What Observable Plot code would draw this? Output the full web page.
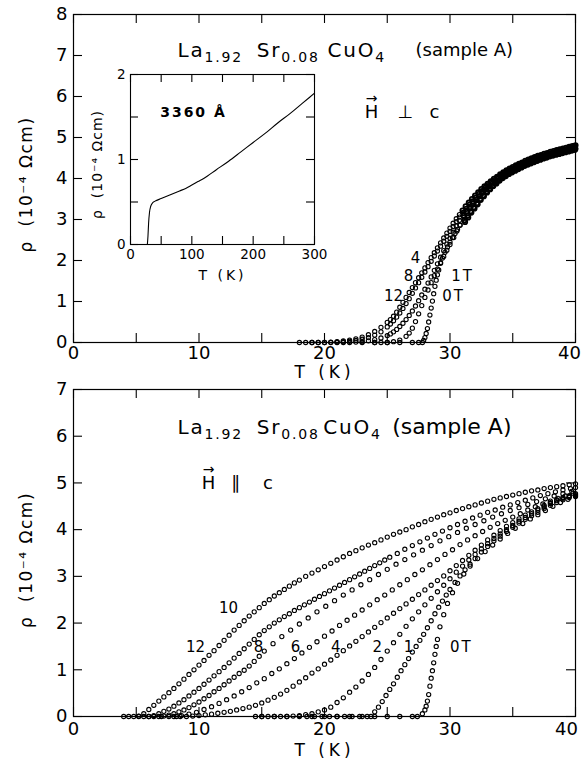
<!DOCTYPE html>
<html><head><meta charset="utf-8">
<script src="https://cdn.jsdelivr.net/npm/d3@7"></script>
<script src="https://cdn.jsdelivr.net/npm/@observablehq/plot@0.6"></script>
<style>
html,body{margin:0;padding:0;background:#fff;}
#wrap{position:relative;width:584px;height:760px;overflow:hidden;background:#fff;}
#wrap svg{position:absolute;overflow:visible;}
</style></head><body><div id="wrap"></div>
<script>
// ---------------- DATA ----------------
// Top panel (H perpendicular to c): transition region per field [T (K), rho (1e-4 Ohm cm)]
const top_0T = [[24,0],[25,0],[26,0],[27,0],[27.5,0],[27.8,0],[27.9,0.05],[28,0.12],[28.1,0.22],[28.2,0.34],[28.3,0.5],[28.4,0.67],[28.5,0.84],[28.6,1.01],[28.7,1.19],[28.8,1.37],[28.9,1.52],[29,1.65],[29.1,1.77],[29.25,1.93],[29.4,2.06],[29.6,2.2],[29.8,2.33],[30,2.45],[30.2,2.56],[30.4,2.66],[30.6,2.76],[30.8,2.86]];
const top_1T = [[23,0],[24,0],[24.5,0],[25,0],[25.5,0.02],[26,0.06],[26.5,0.15],[26.75,0.23],[27,0.35],[27.25,0.51],[27.5,0.7],[27.75,0.9],[28,1.1],[28.25,1.28],[28.5,1.46],[28.75,1.63],[29,1.79],[29.25,1.95],[29.5,2.1],[29.75,2.25],[30,2.39],[30.3,2.56],[30.55,2.72],[30.8,2.87]];
const top_4T = [[21,0],[21.5,0],[22,0],[22.5,0.01],[23,0.02],[23.5,0.04],[24,0.07],[24.5,0.11],[25,0.17],[25.25,0.21],[25.5,0.26],[25.75,0.32],[26,0.39],[26.25,0.47],[26.5,0.56],[26.75,0.66],[27,0.77],[27.25,0.89],[27.5,1.02],[27.75,1.16],[28,1.3],[28.25,1.45],[28.5,1.6],[28.75,1.76],[29,1.92],[29.25,2.08],[29.5,2.24],[29.75,2.4],[30,2.54],[30.25,2.69],[30.5,2.84],[30.75,2.98]];
const top_8T = [[19,0],[19.5,0],[20,0],[20.5,0],[21,0.01],[21.5,0.02],[22,0.03],[22.5,0.05],[23,0.08],[23.5,0.12],[24,0.18],[24.5,0.26],[25,0.38],[25.25,0.45],[25.5,0.53],[25.75,0.62],[26,0.72],[26.25,0.83],[26.5,0.95],[26.75,1.07],[27,1.2],[27.25,1.33],[27.5,1.46],[27.75,1.59],[28,1.72],[28.25,1.85],[28.5,1.98],[28.75,2.11],[29,2.23],[29.25,2.35],[29.5,2.47],[29.75,2.59],[30,2.71],[30.25,2.83],[30.5,2.95],[30.75,3.06]];
const top_12T = [[18,0],[18.5,0],[19,0],[19.5,0],[20,0],[20.5,0.01],[21,0.02],[21.5,0.04],[22,0.06],[22.5,0.09],[23,0.13],[23.5,0.19],[24,0.27],[24.5,0.37],[25,0.49],[25.25,0.56],[25.5,0.64],[25.75,0.74],[26,0.86],[26.25,0.98],[26.5,1.1],[26.75,1.22],[27,1.34],[27.25,1.46],[27.5,1.58],[27.75,1.7],[28,1.82],[28.25,1.95],[28.5,2.07],[28.75,2.19],[29,2.31],[29.25,2.43],[29.5,2.55],[29.75,2.67],[30,2.79],[30.25,2.91],[30.5,3.02],[30.75,3.12]];
// Top panel normal-state band (curves nearly merged): temperatures and values per field
const bandT_12 = [31,31.25,31.5,31.75,32,32.25,32.5,32.75,33,33.25,33.5,33.75,34,34.25,34.5,34.75,35,35.25,35.5,35.75,36,36.25,36.5,36.75,37,37.25,37.5,37.75,38,38.25,38.5,38.75,39,39.25,39.5,39.75,40];
const bandT_8  = [31.05,31.3,31.55,31.8,32.05,32.3,32.55,32.8,33.05,33.3,33.55,33.8,34.05,34.3,34.55,34.8,35.05,35.3,35.55,35.8,36.05,36.3,36.55,36.8,37.05,37.3,37.55,37.8,38.05,38.3,38.55,38.8,39.05,39.3,39.55,39.8,39.95];
const bandT_4  = [31.1,31.35,31.6,31.85,32.1,32.35,32.6,32.85,33.1,33.35,33.6,33.85,34.1,34.35,34.6,34.85,35.1,35.35,35.6,35.85,36.1,36.35,36.6,36.85,37.1,37.35,37.6,37.85,38.1,38.35,38.6,38.85,39.1,39.35,39.6,39.85,39.9];
const bandT_1  = [31.15,31.4,31.65,31.9,32.15,32.4,32.65,32.9,33.15,33.4,33.65,33.9,34.15,34.4,34.65,34.9,35.15,35.4,35.65,35.9,36.15,36.4,36.65,36.9,37.15,37.4,37.65,37.9,38.15,38.4,38.65,38.9,39.15,39.4,39.65,39.9,39.97];
const bandT_0  = [31.2,31.45,31.7,31.95,32.2,32.45,32.7,32.95,33.2,33.45,33.7,33.95,34.2,34.45,34.7,34.95,35.2,35.45,35.7,35.95,36.2,36.45,36.7,36.95,37.2,37.45,37.7,37.95,38.2,38.45,38.7,38.95,39.2,39.45,39.7,39.95,39.99];
const band_12T = [3.22,3.32,3.41,3.5,3.58,3.66,3.74,3.81,3.87,3.93,3.99,4.04,4.1,4.15,4.2,4.24,4.28,4.32,4.36,4.39,4.43,4.46,4.49,4.52,4.55,4.57,4.6,4.62,4.65,4.67,4.69,4.71,4.73,4.75,4.77,4.79,4.81];
const band_8T  = [3.16,3.26,3.36,3.44,3.53,3.62,3.69,3.77,3.84,3.9,3.96,4.02,4.07,4.12,4.17,4.21,4.25,4.29,4.33,4.37,4.4,4.43,4.46,4.49,4.52,4.55,4.57,4.6,4.62,4.64,4.66,4.68,4.7,4.72,4.74,4.76,4.78];
const band_4T  = [3.1,3.2,3.3,3.39,3.48,3.57,3.65,3.73,3.8,3.87,3.93,3.99,4.05,4.1,4.15,4.19,4.23,4.27,4.31,4.35,4.38,4.41,4.44,4.47,4.5,4.53,4.55,4.58,4.6,4.62,4.64,4.66,4.68,4.7,4.72,4.74,4.76];
const band_1T  = [2.98,3.09,3.2,3.3,3.4,3.5,3.59,3.68,3.75,3.83,3.9,3.96,4.03,4.08,4.13,4.17,4.21,4.25,4.29,4.33,4.36,4.39,4.42,4.45,4.48,4.51,4.53,4.56,4.58,4.6,4.62,4.64,4.66,4.68,4.7,4.72,4.74];
const band_0T  = [2.94,3.05,3.17,3.27,3.37,3.48,3.57,3.66,3.74,3.82,3.88,3.95,4.01,4.06,4.11,4.15,4.19,4.23,4.27,4.31,4.34,4.37,4.4,4.43,4.46,4.49,4.51,4.54,4.56,4.58,4.6,4.62,4.64,4.66,4.68,4.7,4.72];

// Bottom panel (H parallel to c): fields 0,1,2,4,6,8,10,12 T
const bot_12T = [[4,0],[4.4,0],[4.8,0],[5.2,0.01],[5.6,0.06],[6,0.15],[6.4,0.24],[6.8,0.33],[7.2,0.42],[7.6,0.51],[8,0.6],[8.4,0.7],[8.8,0.8],[9.2,0.9],[9.6,1],[10,1.1],[10.4,1.2],[10.8,1.31],[11.2,1.41],[11.6,1.52],[12,1.63],[12.4,1.74],[12.8,1.85],[13.2,1.95],[13.6,2.05],[14,2.15],[14.4,2.24],[14.8,2.33],[15.2,2.42],[15.6,2.5],[16,2.58],[16.4,2.65],[16.8,2.72],[17.2,2.79],[17.6,2.86],[18,2.92],[18.5,3],[19,3.07],[19.5,3.14],[20,3.21],[20.5,3.28],[21,3.35],[21.5,3.42],[22,3.49],[22.5,3.55],[23,3.61],[23.5,3.67],[24,3.72],[24.5,3.78],[25,3.84],[25.5,3.9],[26,3.95],[26.5,4],[27,4.06],[27.5,4.11],[28,4.17],[28.5,4.22],[29,4.27],[29.5,4.32],[30,4.36],[30.5,4.41],[31,4.45],[31.5,4.49],[32,4.53],[32.5,4.57],[33,4.61],[33.5,4.65],[34,4.68],[34.5,4.71],[35,4.74],[35.5,4.77],[36,4.8],[36.5,4.83],[37,4.85],[37.5,4.88],[38,4.9],[38.5,4.92],[39,4.94],[39.5,4.96],[40,4.98]];
const bot_10T = [[5.2,0],[5.6,0],[6,0],[6.4,0.02],[6.8,0.06],[7.2,0.11],[7.6,0.16],[8,0.22],[8.4,0.29],[8.8,0.36],[9.2,0.44],[9.6,0.52],[10,0.6],[10.4,0.69],[10.8,0.78],[11.2,0.87],[11.6,0.96],[12,1.05],[12.4,1.15],[12.8,1.25],[13.2,1.35],[13.6,1.45],[14,1.55],[14.4,1.65],[14.8,1.75],[15.2,1.84],[15.6,1.92],[16,2],[16.4,2.07],[16.8,2.14],[17.2,2.2],[17.6,2.27],[18,2.33],[18.4,2.39],[18.8,2.45],[19.2,2.51],[19.6,2.57],[20,2.63],[20.4,2.69],[20.8,2.75],[21.2,2.81],[21.6,2.87],[22,2.93],[22.4,2.99],[22.8,3.05],[23.2,3.11],[23.6,3.17],[24,3.23],[24.4,3.29],[24.8,3.35],[25.2,3.41],[25.8,3.49],[26.4,3.58],[27,3.66],[27.6,3.74],[28.2,3.82],[28.8,3.9],[29.4,3.97],[30,4.04],[30.6,4.11],[31.2,4.18],[31.8,4.25],[32.4,4.31],[33,4.37],[33.6,4.42],[34.2,4.48],[34.8,4.53],[35.4,4.58],[36,4.63],[36.6,4.68],[37.2,4.73],[37.8,4.77],[38.4,4.81],[39,4.85],[39.6,4.88],[40,4.9]];
const bot_8T = [[6,0],[6.4,0],[6.8,0],[7.2,0.01],[7.6,0.03],[8,0.06],[8.4,0.1],[8.8,0.14],[9.2,0.19],[9.6,0.25],[10,0.31],[10.4,0.38],[10.8,0.45],[11.2,0.53],[11.6,0.6],[12,0.68],[12.4,0.76],[12.8,0.84],[13.2,0.92],[13.6,0.99],[14,1.08],[14.4,1.18],[14.8,1.29],[15.2,1.4],[15.9,1.56],[16.6,1.71],[17.3,1.85],[18,1.98],[18.7,2.11],[19.4,2.24],[20.1,2.36],[20.8,2.48],[21.5,2.6],[22.2,2.71],[22.9,2.82],[23.6,2.93],[24.3,3.04],[25,3.15],[25.7,3.26],[26.4,3.36],[27.1,3.46],[27.8,3.56],[28.5,3.66],[29.2,3.76],[29.9,3.85],[30.6,3.94],[31.3,4.03],[32,4.11],[32.7,4.19],[33.4,4.27],[34.1,4.34],[34.8,4.41],[35.5,4.47],[36.2,4.54],[36.9,4.6],[37.6,4.66],[38.3,4.72],[39,4.77],[39.7,4.82]];
const bot_6T = [[7,0],[7.6,0],[8.2,0],[8.6,0.02],[9.2,0.05],[9.8,0.09],[10.4,0.15],[11,0.21],[11.6,0.28],[12.2,0.36],[12.8,0.44],[13.4,0.53],[14,0.62],[14.6,0.72],[15.2,0.81],[15.8,0.92],[16.4,1.02],[17,1.13],[17.6,1.24],[18.2,1.36],[18.8,1.48],[19.4,1.6],[20,1.72],[20.6,1.83],[21.2,1.95],[21.8,2.06],[22.4,2.17],[23,2.28],[23.6,2.39],[24.2,2.5],[24.8,2.6],[25.4,2.71],[26,2.82],[26.6,2.93],[27.2,3.04],[27.8,3.14],[28.4,3.25],[29,3.36],[29.6,3.47],[30.2,3.57],[30.8,3.68],[31.4,3.78],[32,3.87],[32.6,3.96],[33.2,4.05],[33.8,4.13],[34.4,4.2],[35,4.27],[35.6,4.34],[36.2,4.42],[36.8,4.49],[37.4,4.55],[38,4.61],[38.6,4.67],[39.2,4.72],[39.8,4.78]];
const bot_4T = [[8,0],[8.5,0],[9,0],[9.5,0.01],[10,0.02],[10.5,0.035],[11,0.05],[11.5,0.07],[12,0.09],[12.5,0.11],[13,0.14],[13.5,0.17],[14,0.2],[14.5,0.24],[15,0.29],[15.5,0.35],[16,0.41],[16.5,0.48],[17,0.56],[17.5,0.65],[18,0.74],[18.5,0.83],[19,0.93],[19.5,1.02],[20,1.12],[20.5,1.21],[21,1.31],[21.5,1.41],[22,1.51],[22.5,1.61],[23,1.71],[23.5,1.81],[24,1.91],[24.5,2.01],[25,2.11],[25.5,2.21],[26,2.31],[26.5,2.41],[27,2.51],[27.5,2.61],[28,2.71],[28.5,2.81],[29,2.91],[29.5,3.01],[30,3.12],[30.5,3.23],[31,3.34],[31.5,3.45],[32,3.56],[32.5,3.67],[33,3.78],[33.5,3.88],[34,3.98],[34.5,4.07],[35,4.15],[35.5,4.23],[36,4.31],[36.5,4.38],[37,4.45],[37.5,4.52],[38,4.58],[38.5,4.64],[39,4.69],[39.5,4.73],[40,4.77]];
const bot_2T = [[14.5,0],[15,0],[15.5,0],[16,0],[16.5,0],[17,0],[17.5,0.01],[18,0.02],[18.5,0.04],[19,0.06],[19.5,0.1],[20,0.14],[20.5,0.2],[21,0.3],[21.5,0.4],[22,0.52],[22.5,0.63],[23,0.76],[23.5,0.9],[24,1.05],[24.5,1.22],[25,1.4],[25.5,1.58],[26,1.76],[26.5,1.93],[27,2.09],[27.5,2.24],[28,2.39],[28.5,2.53],[29,2.67],[29.5,2.81],[30,2.95],[30.5,3.09],[31,3.22],[31.5,3.35],[32,3.47],[32.5,3.59],[33,3.7],[33.5,3.81],[34,3.91],[34.5,4],[35,4.09],[35.5,4.18],[36,4.26],[36.5,4.34],[37,4.42],[37.5,4.49],[38,4.56],[38.5,4.62],[39,4.67],[39.5,4.71],[40,4.75]];
const bot_1T = [[18.6,0],[19.2,0],[19.8,0],[20.4,0],[21,0],[21.6,0],[22.2,0],[22.8,0],[23.4,0],[23.7,0],[24,0.1],[24.3,0.2],[24.6,0.32],[24.9,0.45],[25.2,0.58],[25.5,0.7],[25.8,0.84],[26.1,0.98],[26.4,1.11],[26.7,1.24],[27,1.38],[27.3,1.5],[27.6,1.63],[27.9,1.76],[28.2,1.9],[28.5,2.05],[28.8,2.2],[29.1,2.34],[29.4,2.47],[29.7,2.6],[30,2.72],[30.4,2.87],[30.8,3.01],[31.2,3.14],[31.6,3.26],[32,3.38],[32.5,3.52],[33,3.64],[33.5,3.76],[34,3.86],[34.5,3.96],[35,4.05],[35.5,4.14],[36,4.22],[36.5,4.3],[37,4.37],[37.5,4.45],[38,4.52],[38.5,4.58],[39,4.64],[39.5,4.69],[40,4.73]];
const bot_0T = [[15,0],[16,0],[17,0],[18,0],[19,0],[20,0],[21,0],[22,0],[23,0],[24,0],[25,0],[26,0],[27,0],[27.4,0],[27.8,0.06],[28,0.14],[28.1,0.22],[28.2,0.33],[28.3,0.47],[28.4,0.65],[28.5,0.82],[28.6,0.98],[28.7,1.15],[28.8,1.33],[28.9,1.5],[29,1.65],[29.2,1.92],[29.5,2.18],[29.8,2.42],[30.2,2.65],[30.6,2.85],[31.1,3.05],[31.6,3.22],[32.2,3.38],[32.8,3.53],[33.4,3.67],[34,3.8],[34.6,3.92],[35.2,4.03],[35.8,4.13],[36.4,4.23],[37,4.32],[37.6,4.41],[38.2,4.5],[38.8,4.58],[39.4,4.65],[40,4.71]];

// Inset: zero-field resistivity of the 3360 Å film
const insetT   = [27.5, 28.5, 29.5, 31, 33, 36, 40, 50, 60, 70, 80, 90, 100, 110, 120, 140, 160, 180, 200, 220, 240, 260, 280, 300];
const insetRho = [0, 0.1, 0.25, 0.38, 0.45, 0.49, 0.51, 0.54, 0.57, 0.6, 0.63, 0.66, 0.7, 0.74, 0.78, 0.88, 0.98, 1.09, 1.2, 1.31, 1.43, 1.54, 1.66, 1.78];

// Tick values
const xMinorTicks = [0,5,10,15,20,25,30,35,40];
const xTickLabels = [0,10,20,30];
const xTickLast = [40];
const yTicksTop = [0,1,2,3,4,5,6,7,8];
const yTicksBot = [0,1,2,3,4,5,6,7];
const insetXTicks = [0,50,100,150,200,250,300];
const insetXLabels = [0,100,200,300];
const insetYTicks = [0,0.5,1,1.5,2];
const insetYLabels = [0,1,2];

// Text
const yLabel = "ρ  (10⁻⁴ Ωcm)";
const xLabel = "T (K)";
const topTitle = [{T:8.29, rho:7.12, text:"La_{1.92}"},{T:14.6, rho:7.12, text:"Sr_{0.08}"},{T:20.24, rho:7.12, text:"CuO_{4}"}];
const topSample = [{T:27.25, rho:7.12, text:"(sample A)"}];
const topField = [{T:23.75, rho:5.61, text:"H"},{T:26.45, rho:5.61, text:"⊥"},{T:28.76, rho:5.61, text:"c"}];
const topArrow = [{T:23.75, rho:5.61, text:"→"}];
const topNum = [{T:27.25, rho:2.05, text:"4"},{T:26.7, rho:1.61, text:"8"},{T:25.5, rho:1.12, text:"12"}];
const topNumT = [{T:31.0, rho:1.61, text:"1T"},{T:30.28, rho:1.12, text:"0T"}];

const botTitle = [{T:8.29, rho:6.19, text:"La_{1.92}"},{T:14.6, rho:6.19, text:"Sr_{0.08}"},{T:19.9, rho:6.19, text:"CuO_{4}"}];
const botSample = [{T:25.4, rho:6.19, text:"(sample A)"}];
const botField = [{T:10.76, rho:4.99, text:"H"},{T:12.9, rho:4.99, text:"∥"},{T:15.5, rho:4.99, text:"c"}];
const botArrow = [{T:10.76, rho:4.99, text:"→"}];
const botNum = [{T:12.35, rho:2.31, text:"10"},{T:9.72, rho:1.48, text:"12"},{T:14.74, rho:1.48, text:"8"},{T:17.7, rho:1.48, text:"6"},{T:20.9, rho:1.48, text:"4"},{T:24.2, rho:1.48, text:"2"},{T:26.7, rho:1.48, text:"1"}];
const botNumT = [{T:30.9, rho:1.48, text:"0T"}];
const insetNote = [{T:102.7, rho:1.55, text:"3360 Å"}];

// ---------------- BUILD ----------------
const FONT = "DejaVu Sans";
function flat(series){ return series.flatMap(([f, pts]) => pts.map(([T, rho]) => ({field:f, T, rho}))); }
function zipPts(ts, vals){ return ts.map((T,i) => [T, vals[i]]); }
const topData = flat([["0",top_0T],["1",top_1T],["4",top_4T],["8",top_8T],["12",top_12T]]);
const topBand = flat([
  ["0", zipPts(bandT_0, band_0T)], ["1", zipPts(bandT_1, band_1T)], ["4", zipPts(bandT_4, band_4T)],
  ["8", zipPts(bandT_8, band_8T)], ["12", zipPts(bandT_12, band_12T)]
]);
const botData = flat([["0",bot_0T],["1",bot_1T],["2",bot_2T],["4",bot_4T],["6",bot_6T],["8",bot_8T],["10",bot_10T],["12",bot_12T]]);
const insetData = insetT.map((T,i) => ({T, rho: insetRho[i]}));

function inwardTicks(xt, yt, fw, fh, len){
  return [
    Plot.tickX(xt, {x:d=>d, insetTop: fh-len, stroke:"black", strokeWidth:1.1}),
    Plot.tickX(xt, {x:d=>d, insetBottom: fh-len, stroke:"black", strokeWidth:1.1}),
    Plot.tickY(yt, {y:d=>d, insetRight: fw-len, stroke:"black", strokeWidth:1.1}),
    Plot.tickY(yt, {y:d=>d, insetLeft: fw-len, stroke:"black", strokeWidth:1.1})
  ];
}
function txt(data, opts){ return Plot.text(data, {x:"T", y:"rho", text:"text", fill:"black", ...opts}); }

function mainPanel(cfg){
  const fw = cfg.width - cfg.ml - cfg.mr, fh = cfg.height - cfg.mt - cfg.mb;
  return Plot.plot({
    width: cfg.width, height: cfg.height,
    marginLeft: cfg.ml, marginRight: cfg.mr, marginTop: cfg.mt, marginBottom: cfg.mb,
    x: {domain:[0,40], label:null}, y: {domain:[0, cfg.ymax], label:null},
    style: {fontFamily: FONT, background:"white", color:"black"},
    marks: [
      Plot.frame({stroke:"black", strokeWidth:1.2}),
      ...inwardTicks(xMinorTicks, cfg.yticks, fw, fh, 9),
      Plot.axisX(xTickLabels, {tickSize:0, tickPadding:cfg.xpad, fontSize:18, label:null, tickFormat:d=>String(d)}),
      Plot.axisX(xTickLast, {tickSize:0, tickPadding:cfg.xpad, fontSize:18, label:null, dx:cfg.lastDx, tickFormat:d=>String(d)}),
      Plot.axisY(cfg.yticks, {tickSize:0, tickPadding:6, fontSize:18, label:null, tickFormat:d=>String(d)}),
      Plot.dot(cfg.data, {x:"T", y:"rho", r:2.1, fill:"none", stroke:"black", strokeWidth:1.1}),
      Plot.dot(cfg.band || [], {x:"T", y:"rho", r:2.2, fill:"none", stroke:"black", strokeWidth:1.8}),
      Plot.text([xLabel], {text:d=>d, frameAnchor:"bottom", textAnchor:"middle", lineAnchor:"middle", dy:cfg.xlabDy, fontSize:17, fill:"black"}),
      Plot.text([yLabel], {text:d=>d, frameAnchor:"left", textAnchor:"middle", lineAnchor:"middle", dx:-47, dy:cfg.ylabDy, rotate:-90, fontSize:17, fill:"black"}),
      txt(cfg.title, {textAnchor:"start", fontSize:20}),
      txt(cfg.sample, {textAnchor:"start", fontSize:cfg.sampleSize}),
      txt(cfg.field, {fontSize:18}),
      txt(cfg.arrow, {fontSize:14, dy:-14}),
      txt(cfg.num, {fontSize:15}),
      txt(cfg.numT, {fontSize:15})
    ]
  });
}

const wrap = document.getElementById("wrap");
function place(svg, left, top){ svg.style.left = left+"px"; svg.style.top = top+"px"; wrap.appendChild(svg); }

const topSvg = mainPanel({width:584, height:380, ml:73, mr:9, mt:14, mb:38, ymax:8, yticks:yTicksTop, data:topData, band:topBand,
  xpad:4, lastDx:-6, xlabDy:30, ylabDy:6, title:topTitle, sample:topSample, sampleSize:18, field:topField, arrow:topArrow, num:topNum, numT:topNumT});
place(topSvg, 0, 0);

const botSvg = mainPanel({width:584, height:380, ml:73, mr:9, mt:9, mb:44, ymax:7, yticks:yTicksBot, data:botData,
  xpad:6, lastDx:-9, xlabDy:34, ylabDy:7, title:botTitle, sample:botSample, sampleSize:22, field:botField, arrow:botArrow, num:botNum, numT:botNumT});
place(botSvg, 0, 380);

// Inset
const iW = 270, iH = 240, iml = 70, imr = 16, imt = 24, imb = 46;
const insetSvg = Plot.plot({
  width:iW, height:iH, marginLeft:iml, marginRight:imr, marginTop:imt, marginBottom:imb,
  x:{domain:[0,300], label:null}, y:{domain:[0,2], label:null},
  style:{fontFamily:FONT, background:"transparent", color:"black"},
  marks:[
    Plot.frame({stroke:"black", strokeWidth:1.1}),
    ...inwardTicks(insetXTicks, insetYTicks, iW-iml-imr, iH-imt-imb, 8),
    Plot.axisX(insetXLabels, {tickSize:0, tickPadding:5, fontSize:13.5, label:null, tickFormat:d=>String(d)}),
    Plot.axisY(insetYLabels, {tickSize:0, tickPadding:5, fontSize:13.5, label:null, tickFormat:d=>String(d)}),
    Plot.line(insetData, {x:"T", y:"rho", stroke:"black", strokeWidth:1.1, curve:"monotone-x"}),
    Plot.text([xLabel], {text:d=>d, frameAnchor:"bottom", textAnchor:"middle", lineAnchor:"middle", dy:31, fontSize:14, fill:"black"}),
    Plot.text([yLabel], {text:d=>d, frameAnchor:"left", textAnchor:"middle", lineAnchor:"middle", dx:-33, dy:5, rotate:-90, fontSize:14, fill:"black"}),
    txt(insetNote, {fontSize:14, fontWeight:"bold"})
  ]
});
place(insetSvg, 60, 50);

// ---- text post-processing: subscripts and letter spacing ----
const NS = "http://www.w3.org/2000/svg";
function finishTexts(svg, isInset){
  svg.querySelectorAll("text").forEach(t => {
    const s = t.textContent;
    if (s.includes("_{")) {
      const parts = s.split(/(_\{[^}]*\})/).filter(p => p);
      t.textContent = "";
      let down = false;
      for (const p of parts) {
        const ts = document.createElementNS(NS, "tspan");
        if (p.startsWith("_{")) {
          ts.textContent = p.slice(2, -1);
          ts.setAttribute("font-size", "14");
          if (!down) ts.setAttribute("dy", "5");
          down = true;
        } else {
          ts.textContent = p;
          if (down) ts.setAttribute("dy", "-5");
          down = false;
        }
        t.appendChild(ts);
      }
      t.style.letterSpacing = "1.8px";
    } else if (s === xLabel) {
      t.style.letterSpacing = isInset ? "3px" : "4px";
    } else if (s === yLabel) {
      t.style.letterSpacing = isInset ? "1px" : "1.5px";
    } else if (s === "1T" || s === "0T") {
      t.style.letterSpacing = "2px";
    } else if (s === "3360 Å") {
      t.style.letterSpacing = "2px";
    }
  });
}
finishTexts(topSvg, false);
finishTexts(botSvg, false);
finishTexts(insetSvg, true);
</script></body></html>
